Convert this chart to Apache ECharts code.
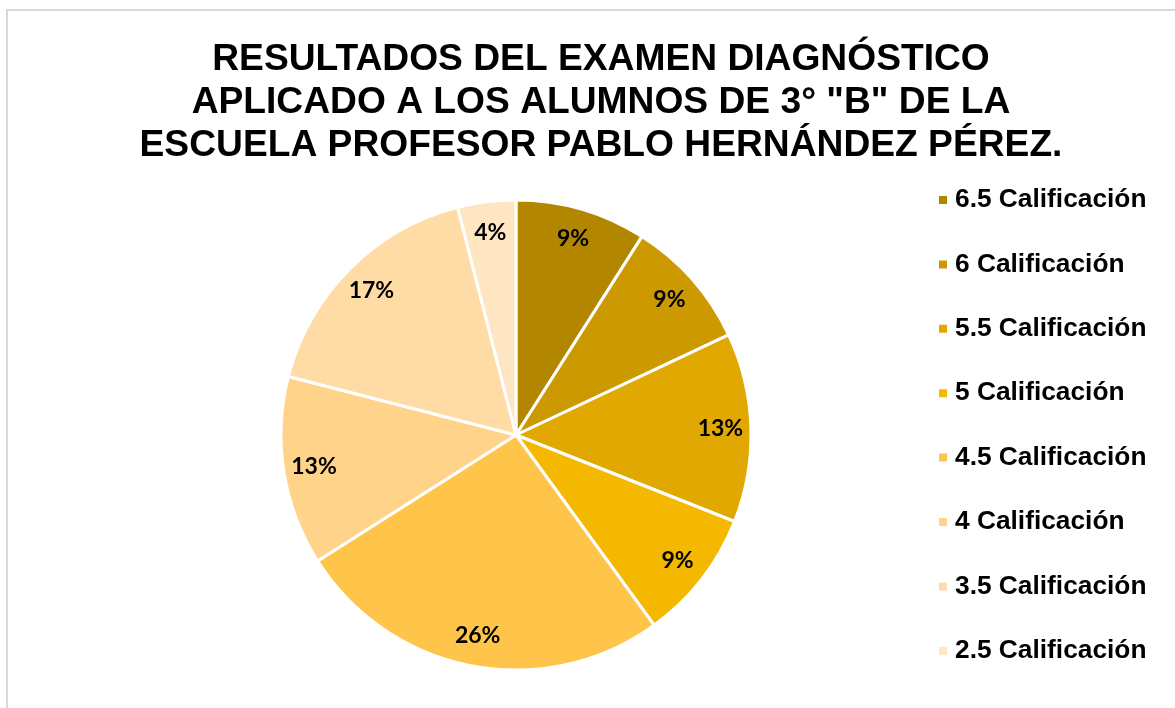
<!DOCTYPE html>
<html>
<head>
<meta charset="utf-8">
<script src="https://cdn.jsdelivr.net/npm/echarts@6/dist/echarts.min.js"></script>
<style>
  html, body { margin: 0; padding: 0; background: #fff; }
  #frame { position: absolute; left: 6px; top: 9px; width: 1200px; height: 720px; border: 2px solid #d9d9d9; box-sizing: border-box; }
  #main { position: absolute; left: 0; top: 0; width: 1175px; height: 708px; }
</style>
</head>
<body>
<div id="frame"></div>
<div id="main"></div>
<script>
// categorias y porcentajes por calificacion
var categorias = ['6.5 Calificación', '6 Calificación', '5.5 Calificación', '5 Calificación',
                  '4.5 Calificación', '4 Calificación', '3.5 Calificación', '2.5 Calificación'];
var porcentajes = [9, 9, 13, 9, 26, 13, 17, 4];
var colores = ['#B38600', '#CC9900', '#E0A800', '#F5B800', '#FFC54B', '#FFD38A', '#FFDCA6', '#FFE6C3'];

var pieData = [];
for (var i = 0; i < categorias.length; i++) {
    pieData.push({ name: categorias[i], value: porcentajes[i], itemStyle: { color: colores[i] } });
}
var labelData = [];
for (var j = 0; j < categorias.length; j++) {
    labelData.push({ name: categorias[j], value: porcentajes[j] });
}

var myChart = echarts.init(document.getElementById('main'), null, { renderer: 'canvas' });
var option = {
    backgroundColor: 'transparent',
    animation: false,
    title: {
        text: 'RESULTADOS DEL EXAMEN DIAGNÓSTICO\nAPLICADO A LOS ALUMNOS DE 3° "B" DE LA\nESCUELA PROFESOR PABLO HERNÁNDEZ PÉREZ.',
        left: 596,
        top: 33,
        textAlign: 'center',
        textStyle: {
            fontFamily: 'Liberation Sans',
            fontWeight: 'bold',
            fontSize: 37.2,
            lineHeight: 43,
            color: '#000'
        }
    },
    legend: {
        orient: 'vertical',
        left: 932,
        top: 182,
        icon: 'rect',
        itemWidth: 10,
        itemHeight: 10,
        itemGap: 38.4,
        data: categorias,
        textStyle: {
            fontFamily: 'Liberation Sans',
            fontWeight: 'bold',
            fontSize: 26.3,
            lineHeight: 26,
            padding: [0, 0, 0, 2],
            color: '#000'
        }
    },
    series: [
        {
            name: 'Calificaciones',
            type: 'pie',
            center: [516, 435],
            radius: [0, 235],
            startAngle: 90,
            clockwise: true,
            label: { show: false },
            labelLine: { show: false },
            itemStyle: { borderColor: '#fff', borderWidth: 3 },
            emphasis: { disabled: true },
            data: pieData
        },
        {
            // capa transparente solo para colocar las etiquetas cerca del borde
            name: 'etiquetas',
            type: 'pie',
            center: [516, 435],
            radius: [168, 235],
            startAngle: 90,
            clockwise: true,
            silent: true,
            itemStyle: { color: 'rgba(0,0,0,0)', borderWidth: 0 },
            label: {
                show: true,
                position: 'inside',
                formatter: function (p) { return Math.round(p.percent) + '%'; },
                fontFamily: 'Lato',
                fontWeight: 'bold',
                fontSize: 23,
                color: '#000'
            },
            labelLine: { show: false },
            emphasis: { disabled: true },
            data: labelData
        }
    ]
};
myChart.setOption(option);
</script>
</body>
</html>
